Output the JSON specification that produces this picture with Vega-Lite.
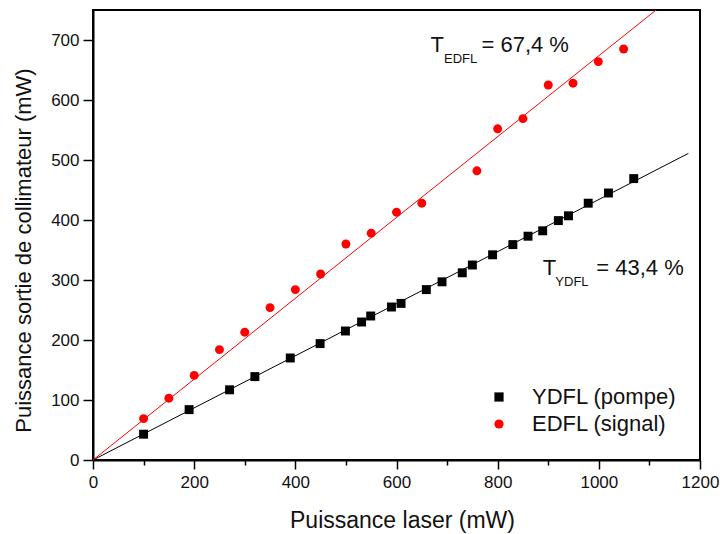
{
  "$schema": "https://vega.github.io/schema/vega-lite/v6.json",
  "width": 607,
  "height": 450,
  "autosize": {"type": "none"},
  "padding": {"left": 93, "top": 10, "right": 20, "bottom": 74},
  "background": "white",
  "config": {
    "font": "Liberation Sans",
    "view": {"stroke": "black", "strokeWidth": 2},
    "axis": {"grid": false, "domainColor": "black", "domainWidth": 2, "tickColor": "black", "tickWidth": 1.5, "labelColor": "#111", "labelFontSize": 17, "titleFontSize": 22, "titleFontWeight": "normal", "titleColor": "#111", "labelFont": "Liberation Sans", "titleFont": "Liberation Sans"}
  },
  "datasets": {
    "pts": [
      {"series": "EDFL (signal)", "x": 100, "y": 69},
      {"series": "EDFL (signal)", "x": 150, "y": 103},
      {"series": "EDFL (signal)", "x": 200, "y": 141},
      {"series": "EDFL (signal)", "x": 250, "y": 184},
      {"series": "EDFL (signal)", "x": 300, "y": 213},
      {"series": "EDFL (signal)", "x": 350, "y": 254},
      {"series": "EDFL (signal)", "x": 400, "y": 284},
      {"series": "EDFL (signal)", "x": 450, "y": 310},
      {"series": "EDFL (signal)", "x": 500, "y": 360},
      {"series": "EDFL (signal)", "x": 550, "y": 378},
      {"series": "EDFL (signal)", "x": 600, "y": 413},
      {"series": "EDFL (signal)", "x": 650, "y": 428},
      {"series": "EDFL (signal)", "x": 759, "y": 482},
      {"series": "EDFL (signal)", "x": 800, "y": 552},
      {"series": "EDFL (signal)", "x": 850, "y": 569},
      {"series": "EDFL (signal)", "x": 900, "y": 625},
      {"series": "EDFL (signal)", "x": 949, "y": 628},
      {"series": "EDFL (signal)", "x": 999, "y": 664},
      {"series": "EDFL (signal)", "x": 1049, "y": 685},
      {"series": "YDFL (pompe)", "x": 100, "y": 43},
      {"series": "YDFL (pompe)", "x": 190, "y": 84},
      {"series": "YDFL (pompe)", "x": 270, "y": 117},
      {"series": "YDFL (pompe)", "x": 320, "y": 139},
      {"series": "YDFL (pompe)", "x": 390, "y": 170},
      {"series": "YDFL (pompe)", "x": 449, "y": 194},
      {"series": "YDFL (pompe)", "x": 499, "y": 215},
      {"series": "YDFL (pompe)", "x": 531, "y": 230},
      {"series": "YDFL (pompe)", "x": 549, "y": 240},
      {"series": "YDFL (pompe)", "x": 590, "y": 255},
      {"series": "YDFL (pompe)", "x": 609, "y": 261},
      {"series": "YDFL (pompe)", "x": 659, "y": 284},
      {"series": "YDFL (pompe)", "x": 690, "y": 297},
      {"series": "YDFL (pompe)", "x": 730, "y": 312},
      {"series": "YDFL (pompe)", "x": 750, "y": 325},
      {"series": "YDFL (pompe)", "x": 790, "y": 342},
      {"series": "YDFL (pompe)", "x": 830, "y": 359},
      {"series": "YDFL (pompe)", "x": 860, "y": 373},
      {"series": "YDFL (pompe)", "x": 889, "y": 382},
      {"series": "YDFL (pompe)", "x": 920, "y": 399},
      {"series": "YDFL (pompe)", "x": 940, "y": 407},
      {"series": "YDFL (pompe)", "x": 979, "y": 428},
      {"series": "YDFL (pompe)", "x": 1019, "y": 445},
      {"series": "YDFL (pompe)", "x": 1069, "y": 469}
    ],
    "fits": [
      {"series": "EDFL (signal)", "x": 0, "y": 0},
      {"series": "EDFL (signal)", "x": 1177, "y": 793},
      {"series": "YDFL (pompe)", "x": 0, "y": 0},
      {"series": "YDFL (pompe)", "x": 1177, "y": 511}
    ],
    "main": [
      {"t": "T", "x": 667, "y": 692},
      {"t": "= 67,4 %", "x": 768, "y": 692},
      {"t": "T", "x": 889, "y": 320},
      {"t": "= 43,4 %", "x": 995, "y": 320}
    ],
    "sub": [
      {"t": "EDFL", "x": 694, "y": 668},
      {"t": "YDFL", "x": 914, "y": 297}
    ]
  },
  "layer": [
    {
      "data": {"name": "fits"},
      "transform": [{"filter": "datum.series == 'YDFL (pompe)'"}],
      "mark": {"type": "line", "color": "black", "strokeWidth": 1, "clip": true},
      "encoding": {
        "x": {"field": "x", "type": "quantitative", "scale": {"domain": [0, 1200], "nice": false},
          "axis": {"title": "Puissance laser (mW)", "values": [0,100,200,300,400,500,600,700,800,900,1000,1100,1200],
            "format": "d",
            "labelExpr": "datum.value % 200 == 0 ? datum.label : ''",
            "tickSize": {"condition": {"test": "datum.value % 200 == 0", "value": 9}, "value": 5},
            "labelPadding": 5, "labelFlush": false,
            "titleFontSize": 23, "titleX": 309, "titleY": 60, "titleBaseline": "middle", "titleAlign": "center"}},
        "y": {"field": "y", "type": "quantitative", "scale": {"domain": [0, 750], "nice": false},
          "axis": {"title": "Puissance sortie de collimateur (mW)", "values": [0,50,100,150,200,250,300,350,400,450,500,550,600,650,700],
            "format": "d",
            "labelExpr": "datum.value % 100 == 0 ? datum.label : ''",
            "tickSize": {"condition": {"test": "datum.value % 100 == 0", "value": 10}, "value": 6},
            "labelPadding": 4, "labelFlush": false,
            "titleX": -70, "titleY": 240, "titleAngle": -90, "titleBaseline": "middle", "titleAlign": "center"}}
      }
    },
    {
      "data": {"name": "fits"},
      "transform": [{"filter": "datum.series == 'EDFL (signal)'"}],
      "mark": {"type": "line", "color": "#ff0000", "strokeWidth": 1, "clip": true},
      "encoding": {
        "x": {"field": "x", "type": "quantitative"},
        "y": {"field": "y", "type": "quantitative"}
      }
    },
    {
      "data": {"name": "pts"},
      "mark": {"type": "point", "filled": true, "opacity": 1, "size": 80},
      "encoding": {
        "x": {"field": "x", "type": "quantitative"},
        "y": {"field": "y", "type": "quantitative"},
        "color": {"field": "series", "type": "nominal",
          "scale": {"domain": ["YDFL (pompe)", "EDFL (signal)"], "range": ["black", "#ff0000"]},
          "legend": {"title": null, "orient": "none", "legendX": 395, "legendY": 376, "labelFontSize": 22, "labelFont": "Liberation Sans", "labelColor": "#111", "symbolSize": 85, "labelOffset": 22, "rowPadding": 5, "padding": 0, "symbolStrokeWidth": 0}},
        "shape": {"field": "series", "type": "nominal",
          "scale": {"domain": ["YDFL (pompe)", "EDFL (signal)"], "range": ["square", "circle"]}}
      }
    },
    {
      "data": {"name": "main"},
      "mark": {"type": "text", "align": "left", "baseline": "middle", "fontSize": 22, "color": "#111"},
      "encoding": {
        "x": {"field": "x", "type": "quantitative"},
        "y": {"field": "y", "type": "quantitative"},
        "text": {"field": "t"}
      }
    },
    {
      "data": {"name": "sub"},
      "mark": {"type": "text", "align": "left", "baseline": "middle", "fontSize": 13, "color": "#111"},
      "encoding": {
        "x": {"field": "x", "type": "quantitative"},
        "y": {"field": "y", "type": "quantitative"},
        "text": {"field": "t"}
      }
    }
  ]
}
